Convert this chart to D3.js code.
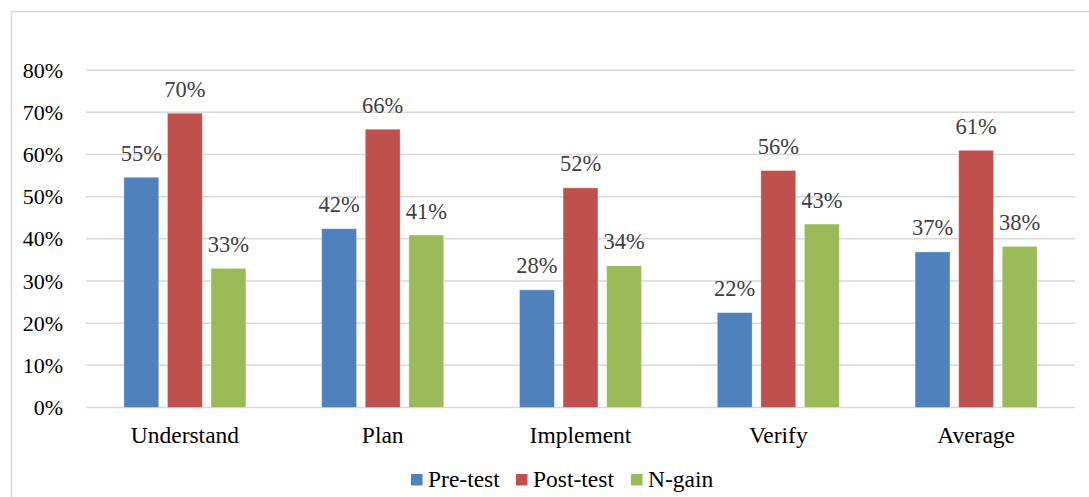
<!DOCTYPE html>
<html>
<head>
<meta charset="utf-8">
<script src="https://cdn.jsdelivr.net/npm/d3@7"></script>
<style>
  body { margin: 0; background: #fff; }
  text { font-family: "Liberation Serif", "Times New Roman", serif; }
</style>
</head>
<body>
<svg width="1089" height="497"></svg>
<script>
var categories = ["Understand", "Plan", "Implement", "Verify", "Average"];
var seriesNames = ["Pre-test", "Post-test", "N-gain"];
var preTest = [0.546, 0.424, 0.279, 0.225, 0.369];
var postTest = [0.698, 0.660, 0.521, 0.562, 0.610];
var nGain = [0.330, 0.409, 0.336, 0.435, 0.382];
var labels = [
  ["55%", "42%", "28%", "22%", "37%"],
  ["70%", "66%", "52%", "56%", "61%"],
  ["33%", "41%", "34%", "43%", "38%"]
];
var yTicks = [0, 0.1, 0.2, 0.3, 0.4, 0.5, 0.6, 0.7, 0.8];
var colors = ["#4f81bd", "#c0504d", "#9bbb59"];

var svg = d3.select('svg');

// chart frame
svg.append("rect")
  .attr("x", 11.5).attr("y", 11.5)
  .attr("width", 1090).attr("height", 500)
  .attr("fill", "none")
  .attr("stroke", "#d9d9d9")
  .attr("stroke-width", 1.5);

var plotLeft = 86, plotRight = 1075, plotTop = 70.2, plotBottom = 407.5;
var groupW = 122;

var x = d3.scaleBand().domain(categories).range([plotLeft, plotRight]);
var x1 = d3.scaleBand().domain(seriesNames).range([0, groupW]).paddingInner(0.2);
var y = d3.scaleLinear().domain([0, 0.8]).range([plotBottom, plotTop]);

// gridlines
svg.append("g").selectAll("line")
  .data(yTicks)
  .enter()
  .append("line")
  .attr("x1", plotLeft).attr("x2", plotRight)
  .attr("y1", function (d) { return y(d); })
  .attr("y2", function (d) { return y(d); })
  .attr("stroke", "#d9d9d9")
  .attr("stroke-width", 1.5);

// y axis labels
var yAxis = d3.axisLeft(y).tickValues(yTicks).tickFormat(d3.format(".0%")).tickSize(0).tickPadding(23);
var gy = svg.append("g").attr("transform", "translate(" + plotLeft + ",0)").call(yAxis);
gy.select(".domain").remove();
gy.selectAll("text")
  .attr("font-size", 22)
  .attr("fill", "#000")
  .style("font-family", "Liberation Serif");

// x axis labels
var xAxis = d3.axisBottom(x).tickSize(0).tickPadding(19);
var gx = svg.append("g").attr("transform", "translate(0," + plotBottom + ")").call(xAxis);
gx.select(".domain").remove();
gx.selectAll("text")
  .attr("font-size", 23.5)
  .attr("fill", "#000")
  .style("font-family", "Liberation Serif");

var series = [preTest, postTest, nGain];

function barX(i, si) {
  return x(categories[i]) + (x.bandwidth() - groupW) / 2 + x1(seriesNames[si]);
}

series.forEach(function (vals, si) {
  var g = svg.append("g");
  g.selectAll("rect")
    .data(vals)
    .enter()
    .append("rect")
    .attr("x", function (d, i) { return barX(i, si); })
    .attr("y", function (d) { return y(d); })
    .attr("width", x1.bandwidth())
    .attr("height", function (d) { return plotBottom - y(d); })
    .attr("fill", colors[si])
    .attr("stroke", "#ffffff")
    .attr("stroke-opacity", 0.4)
    .attr("stroke-width", 0.8);

  g.selectAll("text")
    .data(vals)
    .enter()
    .append("text")
    .attr("x", function (d, i) { return barX(i, si) + x1.bandwidth() / 2; })
    .attr("y", function (d) { return y(d) - 16.5; })
    .attr("text-anchor", "middle")
    .attr("font-size", 22.5)
    .attr("fill", "#404040")
    .text(function (d, i) { return labels[si][i]; });
});

// legend
var legendX = [411, 516, 631];
var lg = svg.append("g").selectAll("g")
  .data(seriesNames)
  .enter()
  .append("g")
  .attr("transform", function (d, i) { return "translate(" + legendX[i] + ",474)"; });
lg.append("rect")
  .attr("width", 11.5).attr("height", 11.5)
  .attr("fill", function (d, i) { return colors[i]; });
lg.append("text")
  .attr("x", 17).attr("y", 13)
  .attr("font-size", 23.5)
  .attr("fill", "#000")
  .text(function (d) { return d; });
</script>
</body>
</html>
